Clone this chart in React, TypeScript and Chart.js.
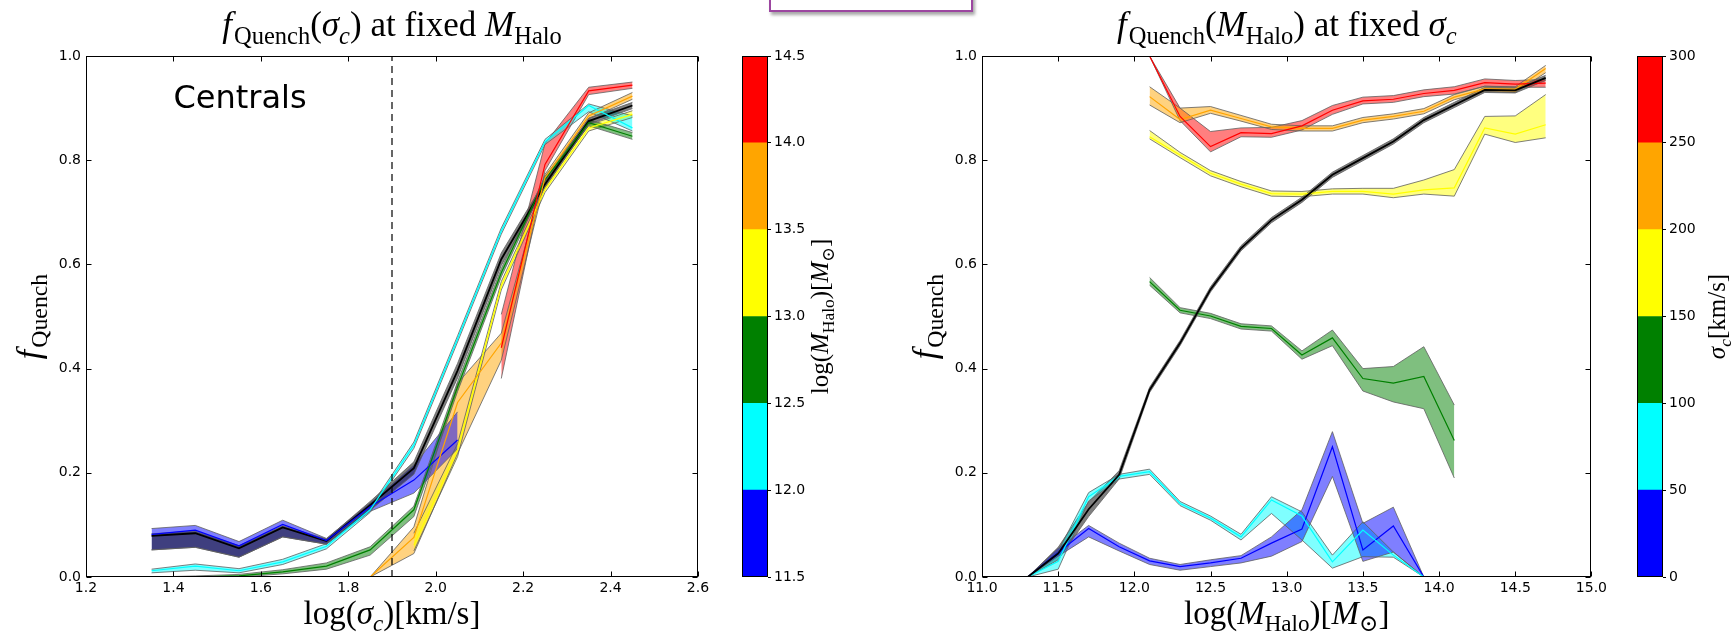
import React, { useEffect, useRef } from "react";
import { Chart, registerables } from "chart.js";

Chart.register(...registerables);

// ---------------- left panel: f_Quench vs log(sigma_c), one curve per halo-mass bin ----------------
const SIGMA_BINS = [1.35, 1.45, 1.55, 1.65, 1.75, 1.85, 1.95, 2.05, 2.15, 2.25, 2.35, 2.45];

const haloAllMid = [0.079, 0.084, 0.055, 0.095, 0.069, 0.138, 0.209, 0.396, 0.61, 0.754, 0.875, 0.905];
const haloAllLo = [0.052, 0.057, 0.038, 0.077, 0.063, 0.128, 0.197, 0.382, 0.598, 0.747, 0.869, 0.899];
const haloAllHi = [0.083, 0.088, 0.06, 0.098, 0.073, 0.145, 0.221, 0.41, 0.622, 0.761, 0.881, 0.911];

const halo115Mid = [0.082, 0.09, 0.06, 0.101, 0.07, 0.135, 0.186, 0.263, null, null, null, null];
const halo115Lo = [0.052, 0.057, 0.038, 0.077, 0.063, 0.126, 0.161, 0.246, null, null, null, null];
const halo115Hi = [0.093, 0.099, 0.068, 0.109, 0.074, 0.142, 0.215, 0.317, null, null, null, null];

const halo120Mid = [0.012, 0.021, 0.012, 0.029, 0.059, 0.129, 0.253, 0.457, 0.664, 0.835, 0.905, 0.862];
const halo120Lo = [0.008, 0.013, 0.008, 0.024, 0.054, 0.124, 0.247, 0.451, 0.658, 0.83, 0.893, 0.856];
const halo120Hi = [0.015, 0.025, 0.016, 0.034, 0.064, 0.134, 0.259, 0.463, 0.67, 0.84, 0.908, 0.885];

const halo125Mid = [0.0, 0.0, 0.002, 0.01, 0.021, 0.052, 0.129, 0.365, 0.584, 0.763, 0.872, 0.846];
const halo125Lo = [0.0, 0.0, 0.0, 0.006, 0.015, 0.042, 0.116, 0.356, 0.576, 0.757, 0.866, 0.84];
const halo125Hi = [0.0, 0.002, 0.005, 0.014, 0.027, 0.058, 0.136, 0.375, 0.592, 0.769, 0.878, 0.853];

const halo130Mid = [null, null, null, null, null, null, 0.061, 0.244, 0.559, 0.744, 0.862, 0.888];
const halo130Lo = [null, null, null, null, null, null, 0.05, 0.231, 0.551, 0.738, 0.856, 0.882];
const halo130Hi = [null, null, null, null, null, null, 0.084, 0.256, 0.567, 0.75, 0.868, 0.895];

const halo135Mid = [null, null, null, null, null, 0.0, 0.076, 0.335, 0.449, 0.766, 0.885, 0.923];
const halo135Lo = [null, null, null, null, null, 0.0, 0.045, 0.237, 0.416, 0.759, 0.879, 0.917];
const halo135Hi = [null, null, null, null, null, 0.0, 0.096, 0.372, 0.468, 0.773, 0.891, 0.93];

const halo140Mid = [null, null, null, null, null, null, null, null, 0.44, 0.792, 0.933, 0.944];
const halo140Lo = [null, null, null, null, null, null, null, null, 0.381, 0.78, 0.926, 0.938];
const halo140Hi = [null, null, null, null, null, null, null, null, 0.504, 0.832, 0.94, 0.95];

const DIVIDER_X = [1.9, 1.9];
const DIVIDER_Y = [0, 1];

// ---------------- right panel: f_Quench vs log(M_Halo), one curve per sigma_c bin ----------------
const MHALO_BINS = [11.3, 11.5, 11.7, 11.9, 12.1, 12.3, 12.5, 12.7, 12.9, 13.1, 13.3, 13.5, 13.7, 13.9, 14.1, 14.3, 14.5, 14.7];

const sigAllMid = [0.0, 0.045, 0.13, 0.196, 0.359, 0.449, 0.552, 0.631, 0.685, 0.724, 0.772, 0.804, 0.836, 0.877, 0.906, 0.935, 0.934, 0.958];
const sigAllLo = [0.0, 0.033, 0.116, 0.188, 0.354, 0.444, 0.547, 0.626, 0.68, 0.719, 0.767, 0.799, 0.831, 0.872, 0.901, 0.93, 0.929, 0.953];
const sigAllHi = [0.0, 0.057, 0.144, 0.204, 0.364, 0.454, 0.557, 0.636, 0.69, 0.729, 0.777, 0.809, 0.841, 0.882, 0.911, 0.94, 0.939, 0.963];

const sig0Mid = [0.0, 0.047, 0.093, 0.058, 0.031, 0.02, 0.027, 0.036, 0.065, 0.092, 0.25, 0.052, 0.098, 0.0, 0.0, 0.0, 0.0, 0.0];
const sig0Lo = [0.0, 0.04, 0.077, 0.05, 0.024, 0.013, 0.02, 0.027, 0.04, 0.068, 0.193, 0.03, 0.048, 0.0, 0.0, 0.0, 0.0, 0.0];
const sig0Hi = [0.0, 0.055, 0.099, 0.065, 0.036, 0.024, 0.033, 0.041, 0.077, 0.129, 0.279, 0.103, 0.134, 0.0, 0.0, 0.0, 0.0, 0.0];

const sig50Mid = [0.0, 0.03, 0.154, 0.193, 0.202, 0.141, 0.113, 0.077, 0.148, 0.117, 0.029, 0.09, 0.042, 0.0, 0.0, 0.0, 0.0, 0.0];
const sig50Lo = [0.0, 0.015, 0.146, 0.188, 0.197, 0.137, 0.109, 0.071, 0.122, 0.071, 0.017, 0.039, 0.038, 0.0, 0.0, 0.0, 0.0, 0.0];
const sig50Hi = [0.0, 0.05, 0.162, 0.197, 0.207, 0.145, 0.117, 0.082, 0.154, 0.125, 0.042, 0.106, 0.048, 0.0, 0.0, 0.0, 0.0, 0.0];

const sig100Mid = [null, null, null, null, 0.567, 0.512, 0.501, 0.481, 0.477, 0.426, 0.459, 0.381, 0.372, 0.385, 0.262, null, null, null];
const sig100Lo = [null, null, null, null, 0.56, 0.507, 0.496, 0.476, 0.472, 0.418, 0.444, 0.357, 0.336, 0.323, 0.19, null, null, null];
const sig100Hi = [null, null, null, null, 0.575, 0.517, 0.506, 0.486, 0.482, 0.434, 0.474, 0.4, 0.404, 0.442, 0.33, null, null, null];

const sig150Mid = [null, null, null, null, 0.845, 0.81, 0.775, 0.754, 0.736, 0.735, 0.74, 0.74, 0.735, 0.743, 0.747, 0.862, 0.85, 0.868];
const sig150Lo = [null, null, null, null, 0.841, 0.805, 0.77, 0.749, 0.731, 0.73, 0.735, 0.735, 0.728, 0.735, 0.731, 0.85, 0.834, 0.843];
const sig150Hi = [null, null, null, null, 0.857, 0.815, 0.78, 0.759, 0.741, 0.74, 0.745, 0.746, 0.746, 0.762, 0.782, 0.884, 0.885, 0.926];

const sig200Mid = [null, null, null, null, 0.922, 0.878, 0.896, 0.88, 0.864, 0.861, 0.861, 0.877, 0.884, 0.894, 0.921, 0.937, 0.936, 0.976];
const sig200Lo = [null, null, null, null, 0.906, 0.872, 0.89, 0.875, 0.859, 0.856, 0.856, 0.872, 0.879, 0.889, 0.916, 0.932, 0.93, 0.968];
const sig200Hi = [null, null, null, null, 0.941, 0.9, 0.903, 0.886, 0.869, 0.866, 0.866, 0.882, 0.889, 0.899, 0.926, 0.942, 0.941, 0.982];

const sig250Mid = [null, null, null, null, 1.0, 0.884, 0.826, 0.853, 0.851, 0.866, 0.896, 0.914, 0.917, 0.928, 0.934, 0.949, 0.946, 0.948];
const sig250Lo = [null, null, null, null, 1.0, 0.876, 0.816, 0.845, 0.844, 0.858, 0.888, 0.908, 0.911, 0.922, 0.927, 0.942, 0.94, 0.94];
const sig250Hi = [null, null, null, null, 1.0, 0.9, 0.855, 0.862, 0.863, 0.876, 0.905, 0.921, 0.924, 0.935, 0.941, 0.956, 0.953, 0.955];

// ---------------- colour bars ----------------
const HALO_EDGES = [11.5, 12.0, 12.5, 13.0, 13.5, 14.0, 14.5];
const SIGMA_EDGES = [0, 50, 100, 150, 200, 250, 300];
const BIN_COLORS = ["#0000ff", "#00ffff", "#008000", "#ffff00", "#ffa500", "#ff0000"];

// ---------------- drawing helpers ----------------
const SERIF = '"Liberation Serif", "DejaVu Serif", serif';
const SANS = '"DejaVu Sans", sans-serif';
const EDGE = "rgba(95,95,95,0.8)";

type Seg = { t: string; it?: boolean; sub?: boolean; gap?: number };

function segFont(s: Seg, size: number) {
  const sz = s.sub ? size * 0.7 : size;
  return `${s.it ? "italic " : ""}${sz}px ${SERIF}`;
}

function drawRich(ctx: CanvasRenderingContext2D, segs: Seg[], cx: number, by: number, size: number) {
  let total = 0;
  const ws = segs.map((s) => {
    ctx.font = segFont(s, size);
    const w = ctx.measureText(s.t).width + (s.gap || 0) * size;
    total += w;
    return w;
  });
  let x = cx - total / 2;
  ctx.textAlign = "left";
  ctx.textBaseline = "alphabetic";
  ctx.fillStyle = "#000";
  segs.forEach((s, i) => {
    ctx.font = segFont(s, size);
    ctx.fillText(s.t, x, by + (s.sub ? size * 0.22 : 0));
    x += ws[i];
  });
}

type Decor = {
  title?: { segs: Seg[]; y: number; size: number };
  xTitle?: { segs: Seg[]; y: number; size: number };
  yTitle?: { segs: Seg[]; x: number; size: number };
  note?: { text: string; x: number; y: number; size: number };
  inward?: boolean;
};

function decorPlugin(cfg: Decor) {
  return {
    id: "decor",
    afterDraw(chart: any) {
      const { ctx, chartArea: a, scales } = chart;
      ctx.save();
      const L = Math.round(a.left) + 0.5;
      const R = Math.round(a.right) - 0.5;
      const T = Math.round(a.top) + 0.5;
      const B = Math.round(a.bottom) - 0.5;
      ctx.strokeStyle = "#000";
      ctx.lineWidth = 1;
      ctx.strokeRect(L, T, R - L, B - T);
      if (cfg.inward) {
        const tl = 5;
        ctx.beginPath();
        const xs = scales.x;
        xs.ticks.forEach((t: any) => {
          const px = Math.round(xs.getPixelForValue(t.value)) + 0.5;
          ctx.moveTo(px, B);
          ctx.lineTo(px, B - tl);
          ctx.moveTo(px, T);
          ctx.lineTo(px, T + tl);
        });
        const ys = scales.y;
        ys.ticks.forEach((t: any) => {
          const py = Math.round(ys.getPixelForValue(t.value)) + 0.5;
          ctx.moveTo(L, py);
          ctx.lineTo(L + tl, py);
          ctx.moveTo(R, py);
          ctx.lineTo(R - tl, py);
        });
        ctx.stroke();
      }
      const cx = (a.left + a.right) / 2;
      const cy = (a.top + a.bottom) / 2;
      if (cfg.title) drawRich(ctx, cfg.title.segs, cx, cfg.title.y, cfg.title.size);
      if (cfg.xTitle) drawRich(ctx, cfg.xTitle.segs, cx, cfg.xTitle.y, cfg.xTitle.size);
      if (cfg.yTitle) {
        ctx.save();
        ctx.translate(cfg.yTitle.x, cy);
        ctx.rotate(-Math.PI / 2);
        drawRich(ctx, cfg.yTitle.segs, 0, 0, cfg.yTitle.size);
        ctx.restore();
      }
      if (cfg.note) {
        ctx.font = `${cfg.note.size}px ${SANS}`;
        ctx.fillStyle = "#000";
        ctx.textAlign = "left";
        ctx.textBaseline = "alphabetic";
        ctx.fillText(cfg.note.text, scales.x.getPixelForValue(cfg.note.x), scales.y.getPixelForValue(cfg.note.y));
      }
      ctx.restore();
    },
  };
}

function rgba(hex: string, a: number) {
  const n = parseInt(hex.slice(1), 16);
  return `rgba(${(n >> 16) & 255},${(n >> 8) & 255},${n & 255},${a})`;
}

function pts(xs: number[], ys: (number | null)[]) {
  const out: { x: number; y: number }[] = [];
  xs.forEach((x, i) => {
    const y = ys[i];
    if (y !== null && y !== undefined) out.push({ x, y });
  });
  return out;
}

type Series = { mid: (number | null)[]; lo: (number | null)[]; hi: (number | null)[]; color: string; width: number; order: number };

function bandDatasets(xs: number[], s: Series) {
  return [
    {
      data: pts(xs, s.hi),
      borderColor: EDGE,
      borderWidth: 1,
      backgroundColor: rgba(s.color, 0.5),
      fill: "+1",
      order: 50,
    },
    { data: pts(xs, s.lo), borderColor: EDGE, borderWidth: 1, fill: false, order: 50 },
    { data: pts(xs, s.mid), borderColor: s.color, borderWidth: s.width, fill: false, order: s.order },
  ];
}

const tickFont = { family: SANS, size: 14 };

function lineConfig(p: {
  xs: number[];
  series: Series[];
  extra?: any[];
  xMin: number;
  xMax: number;
  xStep: number;
  yWidth: number;
  padRight: number;
  decor: Decor;
}) {
  const datasets: any[] = [];
  p.series.forEach((s) => datasets.push(...bandDatasets(p.xs, s)));
  if (p.extra) datasets.push(...p.extra);
  return {
    type: "line",
    data: { datasets },
    options: {
      animation: false,
      responsive: false,
      devicePixelRatio: 1,
      layout: { padding: { left: 0, right: p.padRight, top: 56, bottom: 0 } },
      elements: { line: { tension: 0 }, point: { radius: 0 } },
      plugins: {
        legend: { display: false },
        tooltip: { enabled: false },
        filler: { drawTime: "beforeDatasetsDraw", propagate: false },
      },
      scales: {
        x: {
          type: "linear",
          min: p.xMin,
          max: p.xMax,
          ticks: {
            stepSize: p.xStep,
            autoSkip: false,
            maxRotation: 0,
            padding: 3,
            color: "#000",
            font: tickFont,
            callback: (v: any) => Number(v).toFixed(1),
          },
          grid: { display: false, drawTicks: false },
          border: { display: false },
          afterFit: (s: any) => {
            s.height = 59;
          },
        },
        y: {
          type: "linear",
          min: 0,
          max: 1,
          ticks: {
            stepSize: 0.2,
            padding: 5,
            color: "#000",
            font: tickFont,
            callback: (v: any) => Number(v).toFixed(1),
          },
          grid: { display: false, drawTicks: false },
          border: { display: false },
          afterFit: (s: any) => {
            s.width = p.yWidth;
          },
        },
      },
    },
    plugins: [decorPlugin(p.decor)],
  } as any;
}

function colorbarConfig(edges: number[], step: number, digits: number, padLeft: number, padRight: number, axisW: number, decor: Decor) {
  return {
    type: "bar",
    data: {
      labels: [""],
      datasets: BIN_COLORS.map((c, i) => ({
        data: [[edges[i], edges[i + 1]]],
        backgroundColor: c,
        borderWidth: 0,
        barPercentage: 1,
        categoryPercentage: 1,
        grouped: false,
      })),
    },
    options: {
      animation: false,
      responsive: false,
      devicePixelRatio: 1,
      layout: { padding: { left: padLeft, right: padRight, top: 56, bottom: 59 } },
      plugins: { legend: { display: false }, tooltip: { enabled: false } },
      scales: {
        x: { display: false },
        y: {
          position: "right",
          min: edges[0],
          max: edges[edges.length - 1],
          ticks: {
            stepSize: step,
            padding: 3,
            color: "#000",
            font: tickFont,
            callback: (v: any) => Number(v).toFixed(digits),
          },
          grid: { display: true, drawOnChartArea: false, drawTicks: true, tickLength: 3, color: "#000" },
          border: { display: false },
          afterFit: (s: any) => {
            s.width = axisW;
          },
        },
      },
    },
    plugins: [decorPlugin(decor)],
  } as any;
}

// ---------------- text pieces ----------------
const fQuench: Seg[] = [{ t: "f", it: true, gap: 0.06 }, { t: "Quench", sub: true }];
const titleLeft: Seg[] = [
  ...fQuench,
  { t: "(" },
  { t: "σ", it: true },
  { t: "c", it: true, sub: true },
  { t: ") at fixed " },
  { t: "M", it: true },
  { t: "Halo", sub: true },
];
const titleRight: Seg[] = [
  ...fQuench,
  { t: "(" },
  { t: "M", it: true },
  { t: "Halo", sub: true },
  { t: ") at fixed " },
  { t: "σ", it: true },
  { t: "c", it: true, sub: true },
];
const labelSigma: Seg[] = [{ t: "log(" }, { t: "σ", it: true }, { t: "c", it: true, sub: true }, { t: ")[km/s]" }];
const labelHalo: Seg[] = [
  { t: "log(" },
  { t: "M", it: true },
  { t: "Halo", sub: true },
  { t: ")[" },
  { t: "M", it: true },
  { t: "⊙", sub: true },
  { t: "]" },
];
const labelSigmaBar: Seg[] = [{ t: "σ", it: true }, { t: "c", it: true, sub: true }, { t: "[km/s]" }];

export default function App() {
  const leftRef = useRef<HTMLCanvasElement>(null);
  const leftBarRef = useRef<HTMLCanvasElement>(null);
  const rightRef = useRef<HTMLCanvasElement>(null);
  const rightBarRef = useRef<HTMLCanvasElement>(null);

  useEffect(() => {
    const leftSeries: Series[] = [
      { mid: haloAllMid, lo: haloAllLo, hi: haloAllHi, color: "#000000", width: 1.8, order: 7 },
      { mid: halo115Mid, lo: halo115Lo, hi: halo115Hi, color: BIN_COLORS[0], width: 1.2, order: 6 },
      { mid: halo120Mid, lo: halo120Lo, hi: halo120Hi, color: BIN_COLORS[1], width: 1.2, order: 5 },
      { mid: halo125Mid, lo: halo125Lo, hi: halo125Hi, color: BIN_COLORS[2], width: 1.2, order: 4 },
      { mid: halo130Mid, lo: halo130Lo, hi: halo130Hi, color: BIN_COLORS[3], width: 1.2, order: 3 },
      { mid: halo135Mid, lo: halo135Lo, hi: halo135Hi, color: BIN_COLORS[4], width: 1.2, order: 2 },
      { mid: halo140Mid, lo: halo140Lo, hi: halo140Hi, color: BIN_COLORS[5], width: 1.2, order: 1 },
    ];
    const rightSeries: Series[] = [
      { mid: sig0Mid, lo: sig0Lo, hi: sig0Hi, color: BIN_COLORS[0], width: 1.2, order: 6 },
      { mid: sig50Mid, lo: sig50Lo, hi: sig50Hi, color: BIN_COLORS[1], width: 1.2, order: 5 },
      { mid: sig100Mid, lo: sig100Lo, hi: sig100Hi, color: BIN_COLORS[2], width: 1.2, order: 4 },
      { mid: sig150Mid, lo: sig150Lo, hi: sig150Hi, color: BIN_COLORS[3], width: 1.2, order: 3 },
      { mid: sig200Mid, lo: sig200Lo, hi: sig200Hi, color: BIN_COLORS[4], width: 1.2, order: 2 },
      { mid: sig250Mid, lo: sig250Lo, hi: sig250Hi, color: BIN_COLORS[5], width: 1.2, order: 1 },
      { mid: sigAllMid, lo: sigAllLo, hi: sigAllHi, color: "#000000", width: 1.8, order: 0 },
    ];

    const divider = {
      data: pts(DIVIDER_X, DIVIDER_Y),
      borderColor: "#000",
      borderWidth: 1.2,
      borderDash: [7, 5],
      fill: false,
      order: 0,
    };

    const charts = [
      new Chart(
        leftRef.current!,
        lineConfig({
          xs: SIGMA_BINS,
          series: leftSeries,
          extra: [divider],
          xMin: 1.2,
          xMax: 2.6,
          xStep: 0.2,
          yWidth: 86,
          padRight: 32,
          decor: {
            inward: true,
            title: { segs: titleLeft, y: 36, size: 35 },
            xTitle: { segs: labelSigma, y: 624, size: 33 },
            yTitle: { segs: fQuench, x: 40, size: 34 },
            note: { text: "Centrals", x: 1.4, y: 0.9, size: 32 },
          },
        })
      ),
      new Chart(
        leftBarRef.current!,
        colorbarConfig(HALO_EDGES, 0.5, 1, 12, 32, 60, { yTitle: { segs: labelHalo, x: 98, size: 25 } })
      ),
      new Chart(
        rightRef.current!,
        lineConfig({
          xs: MHALO_BINS,
          series: rightSeries,
          xMin: 11,
          xMax: 15,
          xStep: 0.5,
          yWidth: 122,
          padRight: 16,
          decor: {
            inward: true,
            title: { segs: titleRight, y: 36, size: 35 },
            xTitle: { segs: labelHalo, y: 624, size: 33 },
            yTitle: { segs: fQuench, x: 76, size: 34 },
          },
        })
      ),
      new Chart(
        rightBarRef.current!,
        colorbarConfig(SIGMA_EDGES, 50, 0, 27, 21, 50, { yTitle: { segs: labelSigmaBar, x: 115, size: 25 } })
      ),
    ];
    return () => charts.forEach((c) => c.destroy());
  }, []);

  const abs = (left: number): React.CSSProperties => ({ position: "absolute", left, top: 0 });

  return (
    <div style={{ position: "absolute", left: 0, top: 0, width: 1734, height: 636, background: "#fff", overflow: "hidden" }}>
      <canvas ref={leftRef} width={730} height={636} style={abs(0)} />
      <canvas ref={leftBarRef} width={130} height={636} style={abs(730)} />
      <canvas ref={rightRef} width={750} height={636} style={abs(860)} />
      <canvas ref={rightBarRef} width={124} height={636} style={abs(1610)} />
      <div
        style={{
          position: "absolute",
          left: 769,
          top: -10,
          width: 200,
          height: 18,
          border: "2.5px solid #9c46a0",
          background: "#fff",
          boxShadow: "2px 3px 3px rgba(0,0,0,0.35)",
        }}
      />
    </div>
  );
}
